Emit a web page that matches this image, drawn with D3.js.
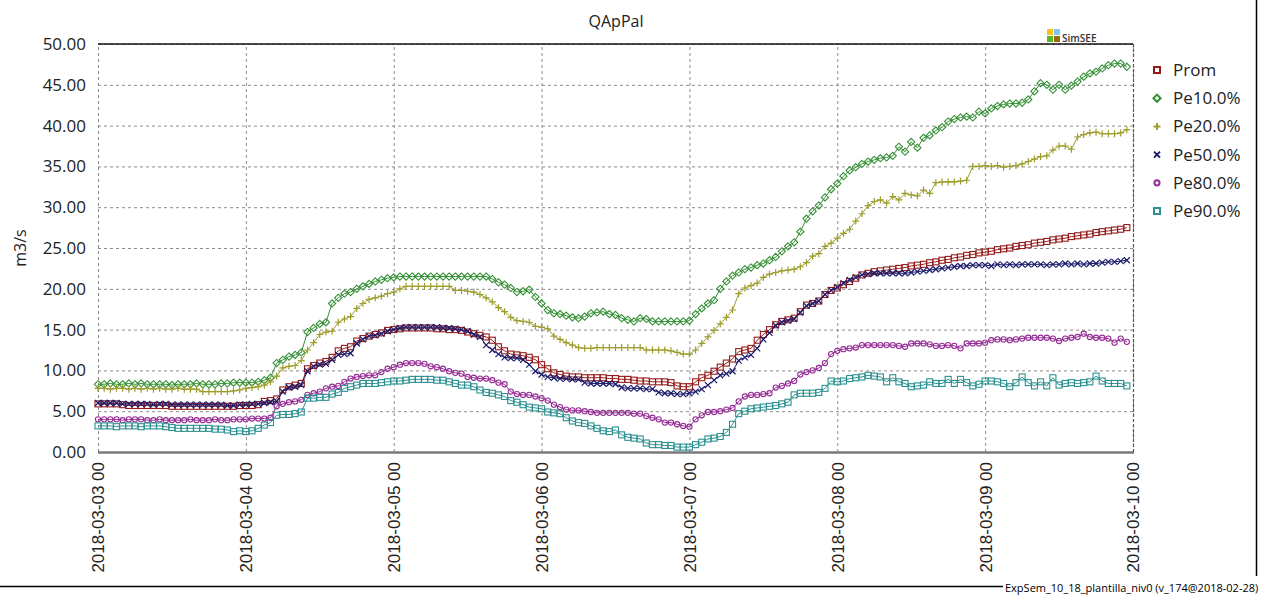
<!DOCTYPE html>
<html><head><meta charset="utf-8">
<script src="https://cdn.jsdelivr.net/npm/d3@7"></script>
<style>
html,body{margin:0;padding:0;background:#fff;}
svg{display:block;}
</style></head>
<body>
<svg id="chart" width="1268" height="597"></svg>
<script>
const title = "QApPal";
const yLabel = "m3/s";
const footer = "ExpSem_10_18_plantilla_niv0 (v_174@2018-02-28)";
const startDate = "2018-03-03T00:00:00";
const endDate = "2018-03-10T00:00:00";
const yTicks = [0,5,10,15,20,25,30,35,40,45,50];
const seriesNames = ["Prom","Pe10.0%","Pe20.0%","Pe50.0%","Pe80.0%","Pe90.0%"];
const seriesColors = ["#951b1b","#369036","#9d9d2c","#1b1b6b","#952b95","#2b9090"];
const seriesMarkers = ["square","diamond","plus","x","circle","square"];

// hourly values, 168 points each
const prom = [
5.9,5.9,5.9,5.9,5.8,5.7,5.7,5.7,5.7,5.7,5.7,5.7,5.6,5.6,5.6,5.6,5.6,5.6,5.6,5.6,5.6,5.6,5.6,5.7,
5.7,5.7,5.8,6.2,6.3,6.5,7.6,8.0,8.2,8.4,10.2,10.6,10.9,11.1,11.6,12.4,12.7,12.9,13.6,13.9,14.2,14.4,14.6,14.9,
15.0,15.1,15.2,15.2,15.2,15.2,15.2,15.1,15.1,15.0,15.0,14.9,14.7,14.5,14.3,14.1,13.7,12.9,12.4,12.0,11.9,11.8,11.6,11.3,
10.7,10.2,9.7,9.5,9.3,9.2,9.2,9.1,9.1,9.1,9.1,9.0,9.0,8.9,8.9,8.8,8.7,8.7,8.6,8.6,8.6,8.5,8.1,8.0,
8.0,8.6,9.1,9.4,9.9,10.4,10.9,11.4,12.3,12.5,12.7,13.7,14.4,15.0,15.6,16.0,16.2,16.4,17.2,18.0,18.2,18.5,19.3,19.8,
20.1,20.5,20.9,21.3,21.7,21.9,22.1,22.2,22.3,22.4,22.5,22.6,22.8,22.9,23.0,23.2,23.3,23.5,23.6,23.8,23.9,24.1,24.2,24.4,
24.5,24.6,24.8,24.9,25.0,25.2,25.3,25.4,25.6,25.7,25.8,26.0,26.1,26.2,26.4,26.5,26.6,26.7,26.9,27.0,27.1,27.2,27.3,27.5
];
const pe10 = [
8.3,8.3,8.4,8.3,8.3,8.4,8.3,8.4,8.3,8.3,8.3,8.3,8.2,8.3,8.3,8.3,8.4,8.3,8.3,8.3,8.4,8.4,8.5,8.5,
8.5,8.5,8.6,8.8,9.1,10.9,11.3,11.7,11.9,12.2,14.7,15.2,15.7,15.9,18.2,18.9,19.4,19.6,20.0,20.3,20.6,20.9,21.1,21.3,
21.4,21.5,21.5,21.5,21.5,21.5,21.5,21.5,21.5,21.5,21.5,21.5,21.5,21.5,21.5,21.5,21.2,20.8,20.5,20.1,19.6,19.7,19.9,19.0,
18.2,17.4,17.0,16.9,16.7,16.5,16.4,16.6,17.0,17.1,17.2,16.9,16.8,16.4,16.2,16.0,16.4,16.3,16.0,16.0,16.0,16.0,16.0,16.0,
16.1,16.9,17.6,18.2,18.6,20.0,20.9,21.6,22.0,22.4,22.6,22.9,23.1,23.5,23.9,24.6,25.2,25.7,27.0,28.6,29.5,30.2,31.2,32.2,
32.9,33.8,34.5,34.9,35.3,35.6,35.8,36.0,36.1,36.3,37.4,36.8,38.0,37.3,38.5,38.8,39.4,39.8,40.5,40.8,41.0,41.1,41.0,41.7,
41.5,42.1,42.4,42.6,42.7,42.7,42.8,43.2,44.2,45.2,45.0,44.4,45.0,44.4,44.9,45.4,46.0,46.4,46.6,47.0,47.4,47.6,47.6,47.2
];
const pe20 = [
7.8,7.8,7.7,7.8,7.8,7.7,7.8,7.7,7.8,7.7,7.8,7.7,7.7,7.8,7.7,7.7,7.7,7.4,7.4,7.4,7.4,7.4,7.5,7.6,
7.8,7.9,8.0,8.2,8.6,9.3,10.3,10.5,10.6,11.2,12.5,13.4,14.4,14.7,14.8,15.9,16.3,16.6,17.6,18.2,18.7,18.9,19.1,19.4,
19.6,20.0,20.3,20.3,20.3,20.3,20.3,20.3,20.3,20.3,19.8,19.8,19.7,19.6,19.3,18.9,18.4,17.7,17.2,16.5,16.1,16.0,15.9,15.4,
15.3,15.1,14.2,13.8,13.4,13.1,12.8,12.7,12.7,12.8,12.8,12.8,12.8,12.8,12.8,12.8,12.8,12.5,12.5,12.5,12.5,12.4,12.2,12.0,
12.0,12.5,13.3,14.1,14.9,15.7,16.5,17.4,19.4,20.1,20.4,20.7,21.4,21.8,22.0,22.2,22.3,22.4,22.7,23.2,24.0,24.3,25.2,25.6,
26.2,26.8,27.3,28.3,29.2,30.2,30.7,30.9,30.5,31.3,30.9,31.7,31.5,31.4,32.1,31.7,33.0,33.1,33.1,33.1,33.2,33.3,35.0,35.0,
35.1,35.0,35.1,34.9,35.0,35.1,35.3,35.6,35.9,36.2,36.3,37.0,37.5,37.5,37.1,38.6,38.9,39.1,39.2,39.0,39.0,39.0,39.1,39.5
];
const pe50 = [
6.0,6.0,6.0,6.0,5.9,5.9,5.9,5.9,5.9,5.8,5.9,5.9,5.8,5.8,5.8,5.8,5.8,5.8,5.8,5.8,5.8,5.7,5.7,5.8,
5.8,5.9,5.9,6.0,6.1,6.2,7.4,7.9,8.0,8.2,9.9,10.5,10.7,10.8,11.3,11.9,12.0,12.1,13.3,13.8,14.2,14.3,14.5,14.8,
15.0,15.2,15.3,15.3,15.3,15.3,15.3,15.3,15.2,15.2,15.1,15.0,14.8,14.4,14.1,13.1,12.5,12.0,11.6,11.5,11.5,11.3,10.7,9.9,
9.5,9.2,9.1,9.0,9.0,8.9,8.9,8.5,8.4,8.4,8.4,8.4,8.3,7.9,7.8,7.8,7.8,7.7,7.7,7.3,7.2,7.2,7.1,7.1,
7.2,7.4,7.7,8.2,8.8,9.4,9.6,9.9,11.2,11.6,11.9,12.7,13.8,14.6,15.5,15.9,16.1,16.3,17.1,17.9,18.2,18.5,19.3,19.8,
20.2,20.7,21.1,21.4,21.7,21.8,21.9,21.9,21.9,21.9,21.9,21.9,22.0,22.1,22.2,22.3,22.4,22.5,22.6,22.7,22.8,22.8,22.9,22.9,
22.9,22.8,23.0,22.9,23.0,22.9,23.0,23.0,23.0,23.0,22.9,23.0,23.0,23.1,23.0,23.1,23.0,23.1,23.1,23.2,23.3,23.3,23.4,23.5
];
const pe80 = [
4.0,4.0,4.0,4.0,3.9,4.0,4.0,4.0,3.9,3.9,4.0,3.9,3.9,3.9,3.9,4.0,3.9,3.9,3.9,4.0,3.9,3.9,4.0,4.0,
4.0,4.1,4.1,4.1,4.2,5.6,5.9,6.1,6.2,6.4,7.0,7.2,7.4,7.8,8.0,8.1,8.6,9.0,9.2,9.3,9.4,9.4,9.8,10.2,
10.4,10.7,10.9,10.9,10.9,10.8,10.5,10.4,10.2,9.9,9.7,9.6,9.2,9.1,9.0,9.0,8.8,8.5,8.3,7.4,7.1,7.0,7.0,6.8,
6.6,6.3,5.8,5.5,5.2,5.1,5.1,5.0,4.9,4.8,4.8,4.8,4.8,4.8,4.8,4.7,4.7,4.4,4.2,4.0,3.6,3.6,3.4,3.2,
3.1,4.0,4.5,4.9,4.9,5.0,5.2,5.4,6.2,6.8,7.0,7.0,7.1,7.2,7.9,8.1,8.4,8.7,9.5,9.8,10.0,10.3,10.9,12.0,
12.4,12.6,12.7,12.8,13.1,13.1,13.1,13.1,13.1,13.1,13.0,12.9,13.3,13.3,13.3,13.2,13.0,13.0,13.1,13.0,12.7,13.3,13.3,13.3,
13.4,13.7,13.8,13.8,13.7,13.8,13.9,14.0,14.0,14.0,14.0,13.9,13.6,13.9,14.0,14.1,14.5,14.1,14.0,14.0,13.9,13.4,13.9,13.5
];
const pe90 = [
3.2,3.2,3.2,3.1,3.2,3.2,3.2,3.1,3.2,3.2,3.2,3.1,3.0,2.9,2.9,2.9,2.9,2.9,2.9,2.8,2.8,2.7,2.5,2.6,
2.5,2.6,2.9,3.3,3.6,4.5,4.6,4.6,4.7,4.9,6.6,6.6,6.7,6.7,7.1,7.3,7.8,8.0,8.2,8.4,8.4,8.4,8.5,8.6,
8.7,8.7,8.8,8.9,8.9,8.9,8.9,8.8,8.8,8.6,8.4,8.2,8.2,8.0,7.6,7.3,7.2,7.0,6.8,6.3,6.1,5.8,5.5,5.4,
5.3,4.9,4.8,4.7,4.2,3.8,3.6,3.5,3.2,2.9,2.6,2.5,2.7,2.1,1.8,1.7,1.6,1.1,0.9,0.9,0.8,0.8,0.6,0.6,
0.6,0.9,1.2,1.6,1.7,1.9,2.4,3.4,4.7,5.0,5.3,5.4,5.5,5.6,5.7,5.9,6.1,7.0,7.2,7.2,7.2,7.3,7.8,8.7,
8.6,8.7,9.0,9.1,9.2,9.4,9.3,9.2,8.6,9.1,8.6,8.4,8.0,8.1,8.2,8.6,8.4,8.4,8.9,8.4,8.9,8.5,8.1,8.3,
8.7,8.7,8.6,8.4,8.0,8.5,9.2,8.5,8.1,8.6,8.1,9.1,8.2,8.4,8.5,8.4,8.5,8.6,9.3,8.7,8.4,8.4,8.4,8.1
];
const seriesValues = [prom, pe10, pe20, pe50, pe80, pe90];

const svg = d3.select("#chart");
const m = {left: 98, right: 1133, top: 44, bottom: 452};

const t0 = new Date(startDate), t1 = new Date(endDate);
const x = d3.scaleTime().domain([t0, t1]).range([m.left, m.right]);
const y = d3.scaleLinear().domain([0, 50]).range([m.bottom, m.top]);
const hour = 3600 * 1000;

// outer frame fragments
svg.append("line").attr("x1", 1256.5).attr("x2", 1256.5).attr("y1", 0).attr("y2", 576)
  .attr("stroke", "#000").attr("stroke-width", 1.5);
svg.append("line").attr("x1", 0).attr("x2", 1003).attr("y1", 586.5).attr("y2", 586.5)
  .attr("stroke", "#000").attr("stroke-width", 1.5);
svg.append("text").attr("x", 1005).attr("y", 592).attr("font-family", "Open Sans, sans-serif")
  .attr("font-size", 11).attr("fill", "#000").text(footer);

// title
svg.append("text").attr("x", 616).attr("y", 27).attr("text-anchor", "middle")
  .attr("font-family", "Open Sans, sans-serif").attr("font-size", 16).attr("fill", "#222").text(title);

// grid
const grid = svg.append("g");
const yAxis = d3.axisLeft(y).tickValues(yTicks).tickSize(-(m.right - m.left)).tickFormat(d => d.toFixed(2));
const gy = grid.append("g").attr("transform", `translate(${m.left},0)`).call(yAxis);
gy.select(".domain").remove();
gy.selectAll(".tick line").attr("stroke", "#8a8a8a").attr("stroke-dasharray", "3,3").attr("stroke-width", 1);
gy.selectAll(".tick text").attr("x", -12).attr("font-family", "Open Sans, sans-serif")
  .attr("font-size", 17).attr("fill", "#222");

const xTicks = d3.range(0, 8).map(i => new Date(t0.getTime() + i * 24 * hour));
const xAxis = d3.axisBottom(x).tickValues(xTicks).tickSize(-(m.bottom - m.top)).tickFormat(d3.timeFormat("%Y-%m-%d %H"));
const gx = grid.append("g").attr("transform", `translate(0,${m.bottom})`).call(xAxis);
gx.select(".domain").remove();
gx.selectAll(".tick line").attr("stroke", "#8a8a8a").attr("stroke-dasharray", "3,3").attr("stroke-width", 1);
gx.selectAll(".tick text").attr("transform", "rotate(-90)").attr("text-anchor", "end")
  .attr("x", -10).attr("y", 0).attr("dy", "0.35em").attr("font-family", "Liberation Sans, Arial, sans-serif")
  .attr("font-size", 17).attr("fill", "#222");

// top border & bottom axis line
svg.append("line").attr("x1", m.left).attr("x2", m.right).attr("y1", m.top).attr("y2", m.top)
  .attr("stroke", "#111").attr("stroke-width", 1.5);
svg.append("line").attr("x1", m.left).attr("x2", m.right + 1).attr("y1", m.bottom + 0.5).attr("y2", m.bottom + 0.5)
  .attr("stroke", "#7a7a7a").attr("stroke-width", 2.5);
svg.append("line").attr("x1", m.right + 0.5).attr("x2", m.right + 0.5).attr("y1", m.top).attr("y2", m.bottom)
  .attr("stroke", "#555").attr("stroke-width", 1.2).attr("stroke-dasharray", "3,2");

// SimSEE logo
const logo = svg.append("g").attr("transform", "translate(1047,29)");
[["#f5c518",0,0],["#7ec8f0",7,0],["#58b820",0,7],["#9a6a10",7,7]].forEach(([c,dx,dy]) =>
  logo.append("rect").attr("x", dx).attr("y", dy).attr("width", 6).attr("height", 6).attr("fill", c));
svg.append("text").attr("x", 1062).attr("y", 42).attr("font-family", "Open Sans, sans-serif")
  .attr("font-size", 10).attr("font-weight", 600).attr("fill", "#333").text("SimSEE");

// y label
svg.append("text").attr("transform", "translate(26,248) rotate(-90)").attr("text-anchor", "middle")
  .attr("font-family", "Open Sans, sans-serif").attr("font-size", 16).attr("fill", "#222").text(yLabel);

// marker helper
function marker(sel, type, color) {
  if (type === "square") {
    sel.append("rect").attr("x", -3).attr("y", -3).attr("width", 6).attr("height", 6)
      .attr("fill", "none").attr("stroke", color).attr("stroke-width", 1.1);
  } else if (type === "diamond") {
    sel.append("path").attr("d", "M0,-3.6L3.6,0L0,3.6L-3.6,0Z").attr("fill", "none")
      .attr("stroke", color).attr("stroke-width", 1.1);
  } else if (type === "plus") {
    sel.append("path").attr("d", "M-3.5,0H3.5M0,-3.5V3.5").attr("stroke", color).attr("stroke-width", 1.2);
  } else if (type === "x") {
    sel.append("path").attr("d", "M-3,-3L3,3M-3,3L3,-3").attr("stroke", color).attr("stroke-width", 1.2);
  } else if (type === "circle") {
    sel.append("circle").attr("r", 2.6).attr("fill", "none").attr("stroke", color).attr("stroke-width", 1.1);
  }
}

// series
const line = d3.line().x(d => x(d.t)).y(d => y(d.v));
const plot = svg.append("g");
seriesNames.forEach((name, i) => {
  const data = seriesValues[i].map((v, h) => ({t: new Date(t0.getTime() + h * hour), v}));
  const g = plot.append("g");
  g.append("path").datum(data).attr("d", line).attr("fill", "none")
    .attr("stroke", seriesColors[i]).attr("stroke-width", 1);
  g.selectAll("g.m").data(data).enter().append("g").attr("class", "m")
    .attr("transform", d => `translate(${x(d.t)},${y(d.v)})`)
    .each(function() { marker(d3.select(this), seriesMarkers[i], seriesColors[i]); });
});

// legend
const leg = svg.append("g");
seriesNames.forEach((name, i) => {
  const ly = 70 + i * 28.2;
  const mg = leg.append("g").attr("transform", `translate(1157,${ly})`);
  marker(mg, seriesMarkers[i], seriesColors[i]);
  mg.selectAll("*").attr("stroke-width", 2);
  leg.append("text").attr("x", 1173).attr("y", ly).attr("dy", "0.35em")
    .attr("font-family", "Open Sans, sans-serif").attr("font-size", 17).attr("fill", "#222").text(name);
});
</script>
</body></html>
